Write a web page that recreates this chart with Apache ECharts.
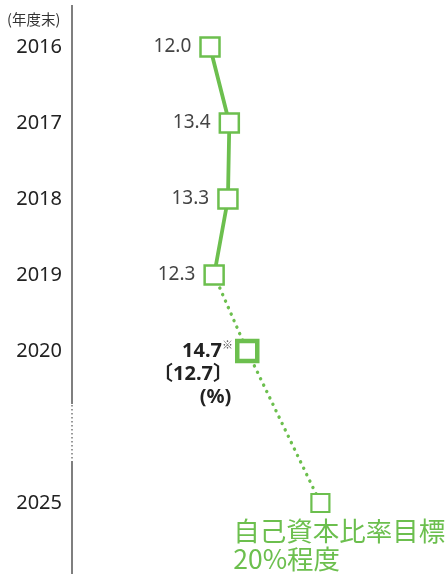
<!DOCTYPE html>
<html><head><meta charset="utf-8">
<script src="https://cdn.jsdelivr.net/npm/echarts@6/dist/echarts.min.js"></script>
<style>html,body{margin:0;padding:0;background:#fff}#c{width:446px;height:574px}</style>
</head><body><div id="c"></div>
<script>
const years = ['2016','2017','2018','2019','2020','','2025'];
const actual = [12.0, 13.4, 13.3, 12.3, null, null, null];
const forecast = [null, null, null, 12.3, 14.7, null, 20.0];
const valueLabels = ['12.0','13.4','13.3','12.3','14.7','','20'];
const note2020 = '12.7';
const targetText = ['自己資本比率目標','20%程度'];
const unitText = '(%)';
const periodText = '(年度末)';

const GREEN = '#6cbf4e';
const FONT = '"Noto Sans","Noto Sans CJK JP",sans-serif';
const JFONT = '"Noto Sans CJK JP",sans-serif';

const chart = echarts.init(document.getElementById('c'));

const solidData = actual.map((v,i)=> v==null ? null : {
  value: v,
  label: {show:true, position:'left', distance:8, formatter: valueLabels[i], color:'#444', fontSize:19, fontFamily:FONT}
});

const dotData = forecast.map((v,i)=>{
  if (v==null) return null;
  if (i===3) return {value:v, symbol:'none'};
  if (i===4) return {
    value:v, symbolSize:20,
    itemStyle:{borderWidth:4.5},
    label:{show:true, position:'left', distance:2, offset:[0,23], align:'right',
      formatter: '{b|'+valueLabels[i]+'}{s|※}\n{b|〔'+note2020+'〕}\n{b|'+unitText+'}{p| }',
      rich:{
        b:{fontSize:20, fontWeight:'bold', color:'#222', fontFamily:FONT, lineHeight:23, align:'right'},
        s:{fontSize:11, color:'#555', fontFamily:JFONT, verticalAlign:'top', padding:[0,0,10,0]},
        p:{fontSize:6}
      }}
  };
  return {
    value:v, symbolSize:18, itemStyle:{borderWidth:2.2},
    label:{show:true, position:[-77,24], align:'left', verticalAlign:'top',
      formatter: targetText.join('\n'), color:GREEN, fontSize:26.5, lineHeight:28, fontFamily:JFONT}
  };
});

chart.setOption({
  animation:false,
  backgroundColor:'#fff',
  grid:{left:72, right:42.8, top:9, bottom:33},
  xAxis:{type:'value', min:2, max:26, show:false},
  yAxis:{type:'category', inverse:true, data:years, boundaryGap:true,
    axisLine:{show:false}, axisTick:{show:false}, splitLine:{show:false},
    axisLabel:{margin:10, color:'#222', fontSize:20, fontFamily:FONT}},
  series:[
    {type:'line', data:dotData, connectNulls:true, z:2,
     symbol:'rect', symbolSize:18,
     lineStyle:{color:GREEN, width:3.4, type:[0.1,7], cap:'round'},
     itemStyle:{color:'#fff', borderColor:GREEN, borderWidth:2.2}},
    {type:'line', data:solidData, z:3,
     symbol:'rect', symbolSize:19,
     lineStyle:{color:GREEN, width:3.8},
     itemStyle:{color:'#fff', borderColor:GREEN, borderWidth:2.5}}
  ],
  graphic:[
    {type:'line', shape:{x1:72,y1:5,x2:72,y2:404}, style:{stroke:'#555', lineWidth:1.5}},
    {type:'line', shape:{x1:72,y1:405,x2:72,y2:460}, style:{stroke:'#777', lineWidth:1.5, lineDash:[1.5,2.5]}},
    {type:'line', shape:{x1:72,y1:461,x2:72,y2:574}, style:{stroke:'#555', lineWidth:1.5}},
    {type:'text', left:7, top:12, style:{text:periodText, fill:'#333', fontSize:14.5, fontFamily:JFONT}}
  ]
});
</script></body></html>
